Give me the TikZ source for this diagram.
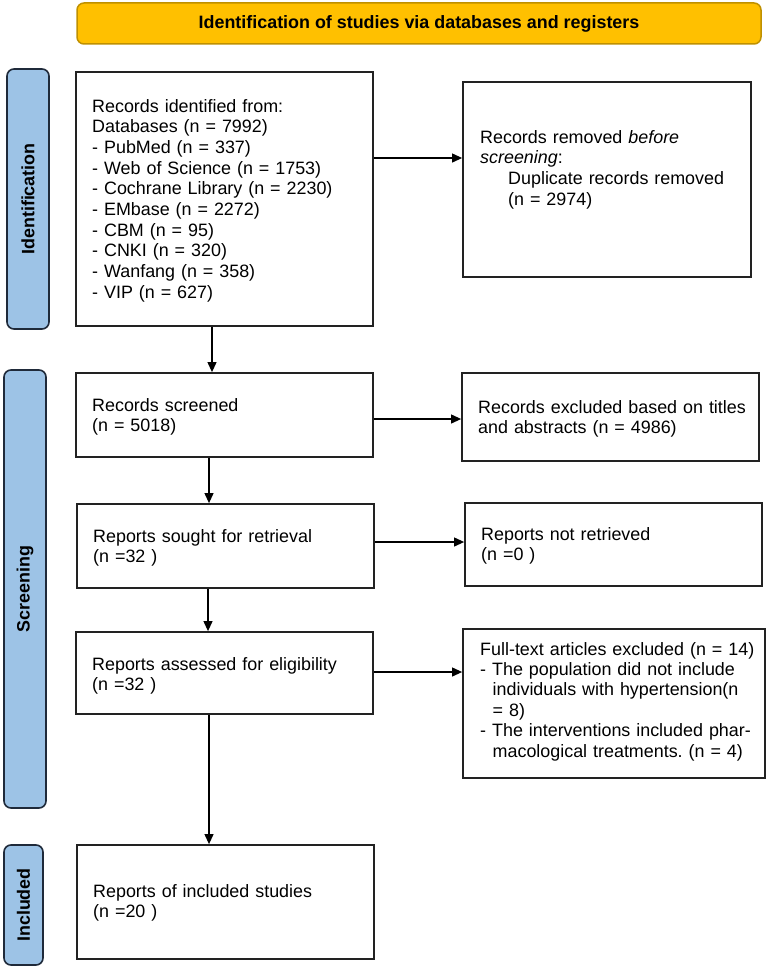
\documentclass[tikz,border=0pt]{standalone}
\usepackage{fontspec}
\setmainfont{Liberation Sans}
\usetikzlibrary{arrows.meta}
\definecolor{gold}{HTML}{FFC000}
\definecolor{golddark}{HTML}{BF9000}
\definecolor{phase}{HTML}{9DC3E6}
\definecolor{phaseb}{HTML}{1F2A3A}
\definecolor{boxb}{HTML}{222222}
\frenchspacing
\begin{document}
\begin{tikzpicture}[x=1pt,y=-1pt,
  box/.style={draw=boxb, line width=1.8pt, fill=white, inner sep=0pt},
  phasebox/.style={draw=phaseb, fill=phase, line width=1.6pt, rounded corners=7pt, inner sep=0pt},
  banner/.style={draw=golddark, fill=gold, line width=1.5pt, rounded corners=7pt, inner sep=0pt},
  ptext/.style={font=\fontsize{17.9}{20}\selectfont\bfseries, rotate=90, inner sep=0pt},
  txt/.style={anchor=base west, inner sep=0pt, align=left, text width=285pt, font=\fontsize{17.9}{20.7}\selectfont},
  arr/.style={-{Triangle[length=10pt,width=9pt]}, line width=1.1pt, black}]
\useasboundingbox (0,0) rectangle (767,966);
% banner
\node[banner, minimum width=684, minimum height=41] (ban) at (419,23.5) {};
\node[font=\fontsize{17.9}{20}\selectfont\bfseries, inner sep=0pt] (bant) at (ban.center) {Identification of studies via databases and registers};
% phase labels
\node[phasebox, minimum width=42, minimum height=260] (labI) at (28,199) {};
\node[ptext] (labIt) at (labI.center) {Identification};
\node[phasebox, minimum width=42, minimum height=438] (labS) at (25,589) {};
\node[ptext] (labSt) at (labS.center) {Screening};
\node[phasebox, minimum width=39, minimum height=120] (labN) at (23.5,905) {};
\node[ptext] (labNt) at (labN.center) {Included};
% boxes
\node[box, minimum width=297, minimum height=254] (bId) at (224.5,199) {};
\node[box, minimum width=288, minimum height=195] (bRem) at (607,179.5) {};
\node[box, minimum width=297, minimum height=84] (bScr) at (224.5,415) {};
\node[box, minimum width=297, minimum height=88] (bExc) at (610.5,417) {};
\node[box, minimum width=297, minimum height=84] (bSou) at (225.5,546) {};
\node[box, minimum width=297, minimum height=83] (bNR) at (613.5,544.5) {};
\node[box, minimum width=297, minimum height=82] (bAss) at (224.5,673) {};
\node[box, minimum width=302, minimum height=149] (bFT) at (614,703.5) {};
\node[box, minimum width=297, minimum height=114] (bInc) at (225.5,902) {};
% texts
\node[txt] (tId) at (92,112) {Records identified from:\\Databases (n = 7992)\\- PubMed (n = 337)\\- Web of Science (n = 1753)\\- Cochrane Library (n = 2230)\\- EMbase (n = 2272)\\- CBM (n = 95)\\- CNKI (n = 320)\\- Wanfang (n = 358)\\- VIP (n = 627)};
\node[txt] (tRem) at (480,143) {Records removed \textit{before}\\\textit{screening}:\\\hspace*{28pt}Duplicate records removed\\\hspace*{28pt}(n = 2974)};
\node[txt] (tScr) at (92,411) {Records screened\\(n = 5018)};
\node[txt] (tExc) at (478,413) {Records excluded based on titles\\and abstracts (n = 4986)};
\node[txt] (tSou) at (93,542) {Reports sought for retrieval\\(n =32 )};
\node[txt] (tNR) at (481,540) {Reports not retrieved\\(n =0 )};
\node[txt] (tAss) at (92,670) {Reports assessed for eligibility\\(n =32 )};
\node[txt, font=\fontsize{17.9}{20.4}\selectfont] (tFT) at (480,655) {Full-text articles excluded (n = 14)\\- The population did not include\\\hspace*{12.5pt}individuals with hypertension(n\\\hspace*{12.5pt}= 8)\\- The interventions included phar-\\\hspace*{12.5pt}macological treatments. (n = 4)};
\node[txt] (tInc) at (93,897) {Reports of included studies\\(n =20 )};
% arrows
\draw[arr] (bId.east |- 0,158) -- (bRem.west |- 0,158);
\draw[arr] (bId.south -| 212,0) -- (bScr.north -| 212,0);
\draw[arr] (bScr.east |- 0,419) -- (bExc.west |- 0,419);
\draw[arr] (bScr.south -| 209,0) -- (bSou.north -| 209,0);
\draw[arr] (bSou.east |- 0,542) -- (bNR.west |- 0,542);
\draw[arr] (bSou.south -| 208,0) -- (bAss.north -| 208,0);
\draw[arr] (bAss.east |- 0,672) -- (bFT.west |- 0,672);
\draw[arr] (bAss.south -| 209,0) -- (bInc.north -| 209,0);
\end{tikzpicture}
\end{document}
